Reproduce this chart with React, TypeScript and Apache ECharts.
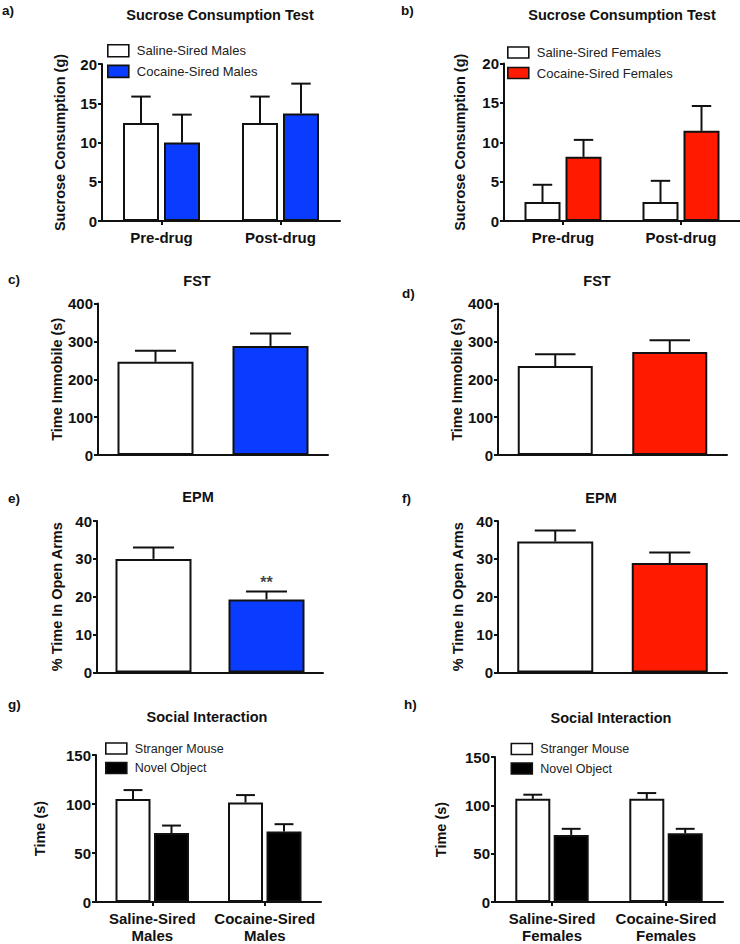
import React, { useEffect, useRef } from 'react';
import * as echarts from 'echarts';

const FONT = '"Liberation Sans", Arial, Helvetica, sans-serif';
const INK = '#111111';
const BLUE = '#0a3cff';
const RED = '#ff1a00';
const WHITE = '#ffffff';
const BLACK = '#000000';

// ---- data ----
const sucroseCats = ['Pre-drug', 'Post-drug'];
const sucroseSalineMales = [12.5, 12.5];
const sucroseSalineMalesSem = [3.35, 3.35];
const sucroseCocaineMales = [10.0, 13.7];
const sucroseCocaineMalesSem = [3.55, 3.8];

const sucroseSalineFemales = [2.4, 2.4];
const sucroseSalineFemalesSem = [2.2, 2.7];
const sucroseCocaineFemales = [8.15, 11.45];
const sucroseCocaineFemalesSem = [2.15, 3.15];

const groupCats = ['Saline-Sired', 'Cocaine-Sired'];
const fstMales = [246, 288];
const fstMalesSem = [29, 33];
const fstFemales = [235, 272];
const fstFemalesSem = [31, 31];

const epmMales = [30.0, 19.3];
const epmMalesSem = [3.0, 2.1];
const epmMalesSig = ['', '**'];
const epmFemales = [34.6, 28.9];
const epmFemalesSem = [2.9, 2.8];

const socialMaleCats = ['Saline-Sired\nMales', 'Cocaine-Sired\nMales'];
const socialFemaleCats = ['Saline-Sired\nFemales', 'Cocaine-Sired\nFemales'];
const socialStrangerMales = [105, 101.5];
const socialStrangerMalesSem = [9.2, 7.6];
const socialObjectMales = [70.3, 71.9];
const socialObjectMalesSem = [7.7, 7.5];
const socialStrangerFemales = [106.7, 106.7];
const socialStrangerFemalesSem = [4.3, 6.0];
const socialObjectFemales = [69.4, 71.0];
const socialObjectFemalesSem = [6.3, 4.7];

const sucroseTicks = { max: 20, interval: 5 };
const fstTicks = { max: 400, interval: 100 };
const epmTicks = { max: 40, interval: 10 };
const socialTicks = { max: 150, interval: 50 };

type Group = { name: string; values: number[]; sem: number[]; color: string | string[] };
type Panel = {
  letter: string;
  letterPos: [number, number];
  title: string;
  titlePos: [number, number];
  grid: { left: number; top: number; width: number; height: number };
  cats: string[];
  showXLabels: boolean;
  showXTicks: boolean;
  yName: string;
  nameGap: number;
  ticks: { max: number; interval: number };
  groups: Group[];
  barWidth: number;
  gapPx: number;
  legend?: { left: number; top: number; itemHeight: number; itemGap: number; fontSize: number };
  sig?: string[];
};

const panels: Panel[] = [
  {
    letter: 'a)', letterPos: [2, 10], title: 'Sucrose Consumption Test', titlePos: [220, 15],
    grid: { left: 102, top: 64, width: 238, height: 157 },
    cats: sucroseCats, showXLabels: true, showXTicks: true,
    yName: 'Sucrose Consumption (g)', nameGap: 35, ticks: sucroseTicks,
    groups: [
      { name: 'Saline-Sired Males', values: sucroseSalineMales, sem: sucroseSalineMalesSem, color: WHITE },
      { name: 'Cocaine-Sired Males', values: sucroseCocaineMales, sem: sucroseCocaineMalesSem, color: BLUE },
    ],
    barWidth: 36, gapPx: 5,
    legend: { left: 107, top: 44, itemHeight: 12, itemGap: 7, fontSize: 13 },
  },
  {
    letter: 'b)', letterPos: [401, 10], title: 'Sucrose Consumption Test', titlePos: [622, 15],
    grid: { left: 504, top: 63.5, width: 236, height: 157.5 },
    cats: sucroseCats, showXLabels: true, showXTicks: true,
    yName: 'Sucrose Consumption (g)', nameGap: 37, ticks: sucroseTicks,
    groups: [
      { name: 'Saline-Sired Females', values: sucroseSalineFemales, sem: sucroseSalineFemalesSem, color: WHITE },
      { name: 'Cocaine-Sired Females', values: sucroseCocaineFemales, sem: sucroseCocaineFemalesSem, color: RED },
    ],
    barWidth: 36, gapPx: 5,
    legend: { left: 507, top: 46, itemHeight: 11, itemGap: 7.5, fontSize: 13 },
  },
  {
    letter: 'c)', letterPos: [8, 279], title: 'FST', titlePos: [197, 281],
    grid: { left: 98, top: 303.5, width: 230, height: 151.5 },
    cats: groupCats, showXLabels: false, showXTicks: false,
    yName: 'Time Immobile (s)', nameGap: 33, ticks: fstTicks,
    groups: [{ name: 'FST Males', values: fstMales, sem: fstMalesSem, color: [WHITE, BLUE] }],
    barWidth: 76, gapPx: 0,
  },
  {
    letter: 'd)', letterPos: [402, 293], title: 'FST', titlePos: [597, 281],
    grid: { left: 498, top: 303.5, width: 229, height: 151.5 },
    cats: groupCats, showXLabels: false, showXTicks: false,
    yName: 'Time Immobile (s)', nameGap: 32, ticks: fstTicks,
    groups: [{ name: 'FST Females', values: fstFemales, sem: fstFemalesSem, color: [WHITE, RED] }],
    barWidth: 75, gapPx: 0,
  },
  {
    letter: 'e)', letterPos: [8, 498], title: 'EPM', titlePos: [198, 497],
    grid: { left: 97, top: 521, width: 226, height: 151.5 },
    cats: groupCats, showXLabels: false, showXTicks: false,
    yName: '% Time In Open Arms', nameGap: 33, ticks: epmTicks,
    groups: [{ name: 'EPM Males', values: epmMales, sem: epmMalesSem, color: [WHITE, BLUE] }],
    barWidth: 76, gapPx: 0, sig: epmMalesSig,
  },
  {
    letter: 'f)', letterPos: [402, 498], title: 'EPM', titlePos: [601, 498],
    grid: { left: 498, top: 521, width: 229, height: 151.5 },
    cats: groupCats, showXLabels: false, showXTicks: false,
    yName: '% Time In Open Arms', nameGap: 33, ticks: epmTicks,
    groups: [{ name: 'EPM Females', values: epmFemales, sem: epmFemalesSem, color: [WHITE, RED] }],
    barWidth: 76, gapPx: 0,
  },
  {
    letter: 'g)', letterPos: [8, 704], title: 'Social Interaction', titlePos: [207, 717],
    grid: { left: 96, top: 755, width: 225, height: 149.5 },
    cats: socialMaleCats, showXLabels: true, showXTicks: true,
    yName: 'Time (s)', nameGap: 49, ticks: socialTicks,
    groups: [
      { name: 'Stranger Mouse', values: socialStrangerMales, sem: socialStrangerMalesSem, color: WHITE },
      { name: 'Novel Object', values: socialObjectMales, sem: socialObjectMalesSem, color: BLACK },
    ],
    barWidth: 35, gapPx: 3.5,
    legend: { left: 105, top: 742, itemHeight: 11, itemGap: 6.5, fontSize: 12.5 },
  },
  {
    letter: 'h)', letterPos: [404, 704], title: 'Social Interaction', titlePos: [611, 718],
    grid: { left: 495, top: 757, width: 228, height: 150 },
    cats: socialFemaleCats, showXLabels: true, showXTicks: true,
    yName: 'Time (s)', nameGap: 46.5, ticks: socialTicks,
    groups: [
      { name: 'Stranger Mouse', values: socialStrangerFemales, sem: socialStrangerFemalesSem, color: WHITE },
      { name: 'Novel Object', values: socialObjectFemales, sem: socialObjectFemalesSem, color: BLACK },
    ],
    barWidth: 35, gapPx: 3.4,
    legend: { left: 510.5, top: 742.5, itemHeight: 11, itemGap: 6.5, fontSize: 12.5 },
  },
];

function buildOption() {
  const grid: any[] = [];
  const xAxis: any[] = [];
  const yAxis: any[] = [];
  const series: any[] = [];
  const legend: any[] = [];
  const graphic: any[] = [];

  panels.forEach((p, idx) => {
    grid.push({ ...p.grid, containLabel: false });
    xAxis.push({
      type: 'category',
      gridIndex: idx,
      data: p.cats,
      axisLine: { show: true, lineStyle: { color: INK, width: 2 } },
      axisTick: { show: p.showXTicks, alignWithLabel: true, length: 4, lineStyle: { color: INK, width: 2 } },
      axisLabel: {
        show: p.showXLabels, interval: 0, margin: 8, fontFamily: FONT, fontWeight: 'bold',
        fontSize: 15, color: INK, lineHeight: 17,
      },
      splitLine: { show: false },
    });
    yAxis.push({
      type: 'value',
      gridIndex: idx,
      min: 0,
      max: p.ticks.max,
      interval: p.ticks.interval,
      name: p.yName,
      nameLocation: 'middle',
      nameRotate: 90,
      nameGap: p.nameGap,
      nameTextStyle: { fontFamily: FONT, fontWeight: 'bold', fontSize: 14.5, color: INK },
      axisLine: { show: true, lineStyle: { color: INK, width: 2 } },
      axisTick: { show: true, length: 4, lineStyle: { color: INK, width: 2 } },
      axisLabel: { margin: 5, fontFamily: FONT, fontWeight: 'bold', fontSize: 15, color: INK },
      splitLine: { show: false },
    });

    const n = p.groups.length;
    p.groups.forEach((g, k) => {
      const colorAt = (i: number) => (Array.isArray(g.color) ? g.color[i] : g.color);
      series.push({
        type: 'bar',
        name: g.name,
        xAxisIndex: idx,
        yAxisIndex: idx,
        data: g.values.map((v, i) => ({ value: v, itemStyle: { color: colorAt(i) } })),
        barWidth: p.barWidth,
        barGap: n > 1 ? `${(p.gapPx / p.barWidth) * 100}%` : '0%',
        itemStyle: { color: colorAt(0), borderColor: INK, borderWidth: 2 },
        emphasis: { disabled: true },
        z: 2,
      });
      const offset = n > 1 ? (k - (n - 1) / 2) * (p.barWidth + p.gapPx) : 0;
      const capHalf = (p.barWidth * 0.54) / 2;
      series.push({
        type: 'custom',
        xAxisIndex: idx,
        yAxisIndex: idx,
        silent: true,
        z: 3,
        data: g.values.map((v, i) => [i, v, v + g.sem[i]]),
        renderItem: (_params: any, api: any) => {
          const c = api.value(0);
          const v = api.value(1);
          const t = api.value(2);
          const p0 = api.coord([c, v]);
          const p1 = api.coord([c, t]);
          const x = p0[0] + offset;
          return {
            type: 'group',
            children: [
              { type: 'line', shape: { x1: x, y1: p0[1], x2: x, y2: p1[1] }, style: { stroke: INK, lineWidth: 2 } },
              { type: 'line', shape: { x1: x - capHalf, y1: p1[1], x2: x + capHalf, y2: p1[1] }, style: { stroke: INK, lineWidth: 2 } },
            ],
          };
        },
      });
      if (p.sig) {
        const sig = p.sig;
        series.push({
          type: 'scatter',
          xAxisIndex: idx,
          yAxisIndex: idx,
          silent: true,
          symbolSize: 0,
          z: 4,
          data: g.values.map((v, i) => [i, v + g.sem[i]]),
          label: {
            show: true,
            position: 'top',
            distance: 1,
            formatter: (q: any) => sig[q.dataIndex],
            fontFamily: FONT,
            fontWeight: 'bold',
            fontSize: 16,
            color: INK,
          },
        });
      }
    });

    if (p.legend) {
      legend.push({
        orient: 'vertical',
        left: p.legend.left,
        top: p.legend.top,
        itemWidth: 21,
        itemHeight: p.legend.itemHeight,
        itemGap: p.legend.itemGap,
        icon: 'rect',
        selectedMode: false,
        padding: 0,
        data: p.groups.map((g) => g.name),
        itemStyle: { borderColor: INK, borderWidth: 1.6 },
        textStyle: {
          fontFamily: FONT, fontSize: p.legend.fontSize, color: '#222',
          lineHeight: p.legend.itemHeight, padding: [0, 0, 0, 3],
        },
      });
    }

    graphic.push({
      type: 'text',
      x: p.titlePos[0],
      y: p.titlePos[1],
      style: {
        text: p.title, fill: INK, font: `bold 14.5px ${FONT}`,
        textAlign: 'center', textVerticalAlign: 'middle', align: 'center', verticalAlign: 'middle',
      },
    });
    graphic.push({
      type: 'text',
      x: p.letterPos[0],
      y: p.letterPos[1],
      style: {
        text: p.letter, fill: INK, font: `bold 13.5px ${FONT}`,
        textAlign: 'left', textVerticalAlign: 'middle', align: 'left', verticalAlign: 'middle',
      },
    });
  });

  return {
    animation: false,
    backgroundColor: '#ffffff',
    grid,
    xAxis,
    yAxis,
    series,
    legend,
    graphic,
  };
}

export default function App() {
  const ref = useRef<HTMLDivElement>(null);
  useEffect(() => {
    if (!ref.current) return;
    const chart = echarts.init(ref.current, undefined, { renderer: 'svg' });
    chart.setOption(buildOption() as any);
    return () => chart.dispose();
  }, []);
  return (
    <div
      ref={ref}
      style={{ position: 'absolute', left: 0, top: 0, width: 740, height: 944, background: '#fff' }}
    />
  );
}
